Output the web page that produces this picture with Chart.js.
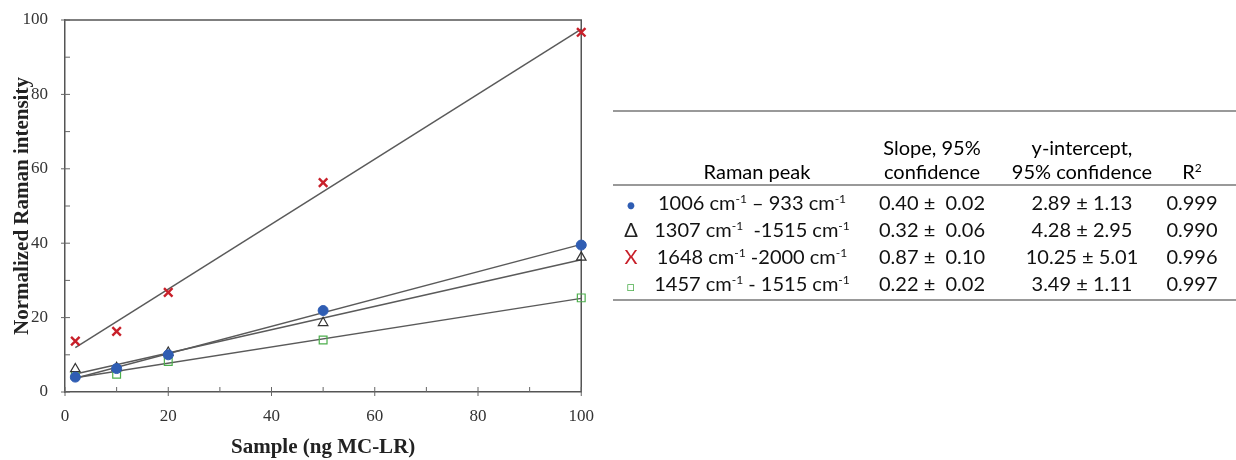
<!DOCTYPE html>
<html>
<head>
<meta charset="utf-8">
<script src="https://cdn.jsdelivr.net/npm/chart.js@4.4.1/dist/chart.umd.min.js"></script>
<style>
  body { margin: 0; background: #fff; width: 1236px; height: 460px; overflow: hidden; position: relative; }
  #chartBox { position: absolute; left: 0; top: 0; width: 600px; height: 460px; }
  #tbl { position: absolute; left: 0; top: 0; width: 1236px; height: 460px; font-family: Lato, "Open Sans", sans-serif; font-size: 20px; color: #111; }
  #tbl .c { position: absolute; white-space: nowrap; transform: translate(-50%, -50%); }
  #tbl .rule { position: absolute; left: 613px; right: 0; height: 0; border-top: 2px solid #999; }
  sup { font-size: 12px; vertical-align: 7px; line-height: 0; }
</style>
</head>
<body>
<div id="chartBox"><canvas id="scatter" width="600" height="460"></canvas></div>
<div id="tbl"></div>
<script>
// sample amounts (ng MC-LR)
const sampleX = [2, 10, 20, 50, 100];
// normalized Raman intensity per peak ratio
const peak1006 = [4.0, 6.3, 10.0, 21.9, 39.5];
const peak1307 = [6.2, 6.5, 10.6, 18.6, 36.2];
const peak1648 = [13.7, 16.3, 26.8, 56.3, 96.7];
const peak1457 = [4.4, 4.8, 8.2, 14.0, 25.3];

// table contents
const peakLabels = ['1006 cm<sup>-1</sup> \u2013 933 cm<sup>-1</sup>', '1307 cm<sup>-1</sup> &nbsp;-1515 cm<sup>-1</sup>',
  '1648 cm<sup>-1</sup> -2000 cm<sup>-1</sup>', '1457 cm<sup>-1</sup> - 1515 cm<sup>-1</sup>'];
const slopes = ['0.40', '0.32', '0.87', '0.22'];
const slopeCI = ['0.02', '0.06', '0.10', '0.02'];
const intercepts = ['2.89', '4.28', '10.25', '3.49'];
const interceptCI = ['1.13', '2.95', '5.01', '1.11'];
const rSquared = ['0.999', '0.990', '0.996', '0.997'];

const BLUE = '#2f5db3', RED = '#c8202a', GREEN = '#4cae4c', BLACK = '#333';

// least squares trend line through the points, drawn from first to last x
function trend(xs, ys) {
    const n = xs.length;
    const mx = xs.reduce((a, b) => a + b, 0) / n;
    const my = ys.reduce((a, b) => a + b, 0) / n;
    let sxy = 0, sxx = 0;
    xs.forEach((x, i) => { sxy += (x - mx) * (ys[i] - my); sxx += (x - mx) * (x - mx); });
    const m = sxy / sxx, b = my - m * mx;
    return [xs[0], xs[n - 1]].map(x => ({ x: x, y: m * x + b }));
}
function pts(ys) { return sampleX.map((x, i) => ({ x: x, y: ys[i] })); }
function fitSet(ys) {
    return { type: 'line', data: trend(sampleX, ys), borderColor: '#5a5a5a', borderWidth: 1.5,
             pointRadius: 0, fill: false, order: 2 };
}

// frame on top/right plus the tick marks
const framePlugin = {
    id: 'frame',
    beforeDatasetsDraw(chart) {
        const { ctx, chartArea: a, scales } = chart;
        ctx.save();
        ctx.strokeStyle = '#555';
        ctx.lineWidth = 1.5;
        ctx.beginPath();
        ctx.moveTo(a.left, a.top); ctx.lineTo(a.right, a.top); ctx.lineTo(a.right, a.bottom);
        ctx.stroke();
        ctx.lineWidth = 1;
        ctx.strokeStyle = '#666';
        ctx.beginPath();
        for (let v = 0; v <= 100; v += 10) {
            const major = v % 20 === 0;
            const px = scales.x.getPixelForValue(v);
            ctx.moveTo(px, a.bottom + (major ? 4 : 0)); ctx.lineTo(px, a.bottom - 5);
            const py = scales.y.getPixelForValue(v);
            ctx.moveTo(a.left - (major ? 4 : 0), py); ctx.lineTo(a.left + 5, py);
        }
        ctx.stroke();
        ctx.restore();
    }
};

new Chart(document.getElementById('scatter'), {
    type: 'scatter',
    data: {
        datasets: [
            fitSet(peak1648), fitSet(peak1006), fitSet(peak1307), fitSet(peak1457),
            { data: pts(peak1648), pointStyle: 'crossRot', pointRadius: 6, pointBorderWidth: 2.4,
              borderColor: RED, backgroundColor: RED, order: 1 },
            { data: pts(peak1307), pointStyle: 'triangle', pointRadius: 5.5, pointBorderWidth: 1.2,
              borderColor: BLACK, backgroundColor: 'rgba(255,255,255,0)', order: 1 },
            { data: pts(peak1457), pointStyle: 'rect', pointRadius: 5.5, pointBorderWidth: 1.2,
              borderColor: GREEN, backgroundColor: 'rgba(255,255,255,0)', order: 1 },
            { data: pts(peak1006), pointStyle: 'circle', pointRadius: 5, pointBorderWidth: 1,
              borderColor: BLUE, backgroundColor: BLUE, order: 0 }
        ]
    },
    options: {
        responsive: false,
        animation: false,
        clip: false,
        layout: { padding: { top: 20, right: 9, left: 0, bottom: 0 } },
        plugins: { legend: { display: false }, tooltip: { enabled: false } },
        scales: {
            x: {
                type: 'linear', min: 0, max: 100,
                grid: { display: false },
                border: { display: true, color: '#555', width: 1.5 },
                ticks: { stepSize: 20, padding: 6, color: '#333',
                         font: { family: '"Liberation Serif", serif', size: 17 } },
                title: { display: true, text: 'Sample (ng MC-LR)', color: '#222',
                         padding: { top: 0, bottom: 0 },
                         font: { family: '"Liberation Serif", serif', size: 21, weight: 'bold' } },
                afterFit(s) { s.height = 68; }
            },
            y: {
                type: 'linear', min: 0, max: 100,
                grid: { display: false },
                border: { display: true, color: '#555', width: 1.5 },
                ticks: { stepSize: 20, padding: 9, color: '#333',
                         font: { family: '"Liberation Serif", serif', size: 17 } },
                title: { display: true, text: 'Normalized Raman intensity', color: '#222',
                         padding: { top: 10, bottom: 0 },
                         font: { family: '"Liberation Serif", serif', size: 21, weight: 'bold' } },
                afterFit(s) { s.width = 65; }
            }
        }
    },
    plugins: [framePlugin]
});

// results table to the right of the plot
const tbl = document.getElementById('tbl');
function cell(html, x, y, style) {
    const d = document.createElement('div');
    d.className = 'c';
    d.style.left = x + 'px';
    d.style.top = y + 'px';
    if (style) d.style.cssText += style;
    d.innerHTML = html;
    tbl.appendChild(d);
}
function rule(y) {
    const d = document.createElement('div');
    d.className = 'rule';
    d.style.top = y + 'px';
    tbl.appendChild(d);
}
rule(110); rule(184); rule(299);
const hdr = 'color:#000;';
cell('Raman peak', 757, 171, hdr);
cell('Slope, 95%', 932, 147, hdr);
cell('confidence', 932, 171, hdr);
cell('y-intercept,', 1082, 147, hdr);
cell('95% confidence', 1082, 171, hdr);
cell('R<sup>2</sup>', 1192, 171, hdr);
const symbols = [
    '<span style="color:' + BLUE + ';font-size:14px">\u25CF</span>',
    '<span style="color:#222">\u0394</span>',
    '<span style="color:' + RED + '">X</span>',
    '<span style="color:' + GREEN + ';font-size:13px">\u25A1</span>'
];
const rowY = [202, 229, 256, 283];
rowY.forEach((y, i) => {
    cell(symbols[i], 631, y);
    cell(peakLabels[i], 752, y);
    cell(slopes[i] + ' \u00B1 &nbsp;' + slopeCI[i], 932, y);
    cell(intercepts[i] + ' \u00B1 ' + interceptCI[i], 1082, y);
    cell(rSquared[i], 1192, y);
});
</script>
</body>
</html>
